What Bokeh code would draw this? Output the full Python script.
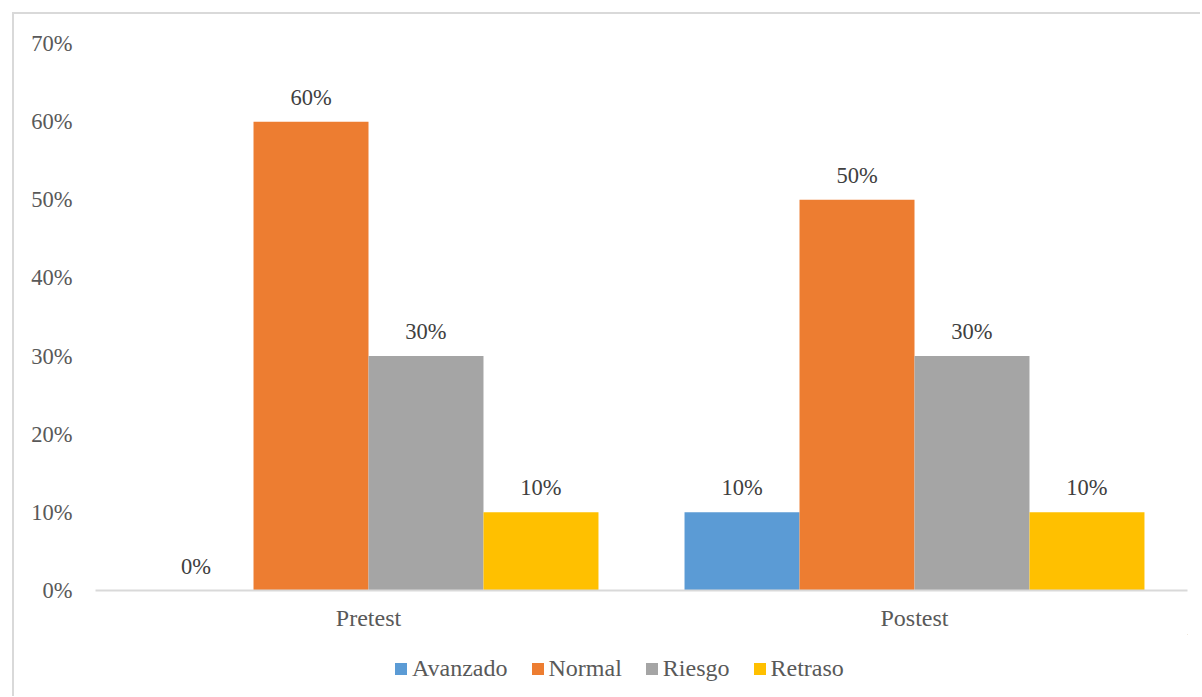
from bokeh.plotting import figure
from bokeh.layouts import column
from bokeh.models import ColumnDataSource, Range1d, FixedTicker, NumeralTickFormatter, Legend, LegendItem
from bokeh.core.properties import value
from bokeh.embed import file_html
from bokeh.resources import INLINE

categories = ["Pretest", "Postest"]
series = ["Avanzado", "Normal", "Riesgo", "Retraso"]
avanzado = [0.0, 0.10]
normal = [0.60, 0.50]
riesgo = [0.30, 0.30]
retraso = [0.10, 0.10]
colors = ["#5B9BD5", "#ED7D31", "#A5A5A5", "#FFC000"]
y_ticks = [0, 0.1, 0.2, 0.3, 0.4, 0.5, 0.6, 0.7]

FONT = "Liberation Serif"

p = figure(width=1186, height=620, output_backend="svg", toolbar_location=None,
           x_range=Range1d(0, 2), y_range=Range1d(0, 0.7),
           min_border_left=81, min_border_right=13, min_border_top=29, min_border_bottom=44)
p.outline_line_color = None
p.xgrid.visible = False
p.ygrid.visible = False
p.background_fill_color = "white"
p.border_fill_color = "white"

bar_w = 0.2106
offsets = [-1.5 * bar_w, -0.5 * bar_w, 0.5 * bar_w, 1.5 * bar_w]
centers = [0.5 + i for i in range(len(categories))]
all_vals = [avanzado, normal, riesgo, retraso]

for s, vals, col, off in zip(series, all_vals, colors, offsets):
    src = ColumnDataSource(dict(x=[c + off for c in centers], top=vals,
                                lbl=[f"{round(v * 100)}%" for v in vals]))
    p.vbar(x="x", top="top", width=bar_w, bottom=0, source=src, fill_color=col, line_color=None)
    p.text(x="x", y="top", text="lbl", source=src, text_align="center", text_baseline="bottom",
           y_offset=-12, text_font=value(FONT), text_font_size="22.5px", text_color="#404040")

p.yaxis.ticker = FixedTicker(ticks=y_ticks)
p.yaxis.formatter = NumeralTickFormatter(format="0%")
p.yaxis.axis_line_color = None
p.yaxis.major_tick_line_color = None
p.yaxis.minor_tick_line_color = None
p.yaxis.major_label_text_font = FONT
p.yaxis.major_label_text_font_size = "22.5px"
p.yaxis.major_label_text_color = "#595959"
p.yaxis.major_label_standoff = 17

p.xaxis.ticker = FixedTicker(ticks=centers)
p.xaxis.major_label_overrides = {c: cat for c, cat in zip(centers, categories)}
p.xaxis.axis_line_color = "#d9d9d9"
p.xaxis.axis_line_width = 2
p.xaxis.major_tick_line_color = None
p.xaxis.minor_tick_line_color = None
p.xaxis.major_label_text_font = FONT
p.xaxis.major_label_text_font_size = "24px"
p.xaxis.major_label_text_color = "#595959"
p.xaxis.major_label_standoff = 8

# legend strip below the chart (no axes, frame covers the whole strip)
lg = figure(width=1186, height=62, output_backend="svg", toolbar_location=None,
            x_axis_location=None, y_axis_location=None,
            x_range=Range1d(0, 1), y_range=Range1d(0, 1),
            min_border_left=0, min_border_right=0, min_border_top=0, min_border_bottom=0)
lg.grid.visible = False
lg.outline_line_color = None
lg.background_fill_color = "white"
lg.border_fill_color = "white"
items = []
for s, col in zip(series, colors):
    # legend swatches: renderers whose single bar lies outside the strip's visible range
    r = lg.vbar(x=[5], top=[5], bottom=[4], width=0.1, fill_color=col, line_color=None)
    items.append(LegendItem(label=s, renderers=[r]))
legend = Legend(items=items, orientation="horizontal", location=(298, 14),
                label_text_font=FONT, label_text_font_size="24px", label_text_color="#595959",
                glyph_width=15, glyph_height=15, label_standoff=4, spacing=22,
                padding=0, margin=0, border_line_color=None, background_fill_alpha=0)
lg.add_layout(legend, "center")

layout = column(p, lg, spacing=0)
layout.margin = (12, 0, 0, 12)
layout.styles = {"border-left": "2px solid #d9d9d9", "border-top": "2px solid #d9d9d9"}

open("out.html", "w").write(file_html(layout, INLINE))
